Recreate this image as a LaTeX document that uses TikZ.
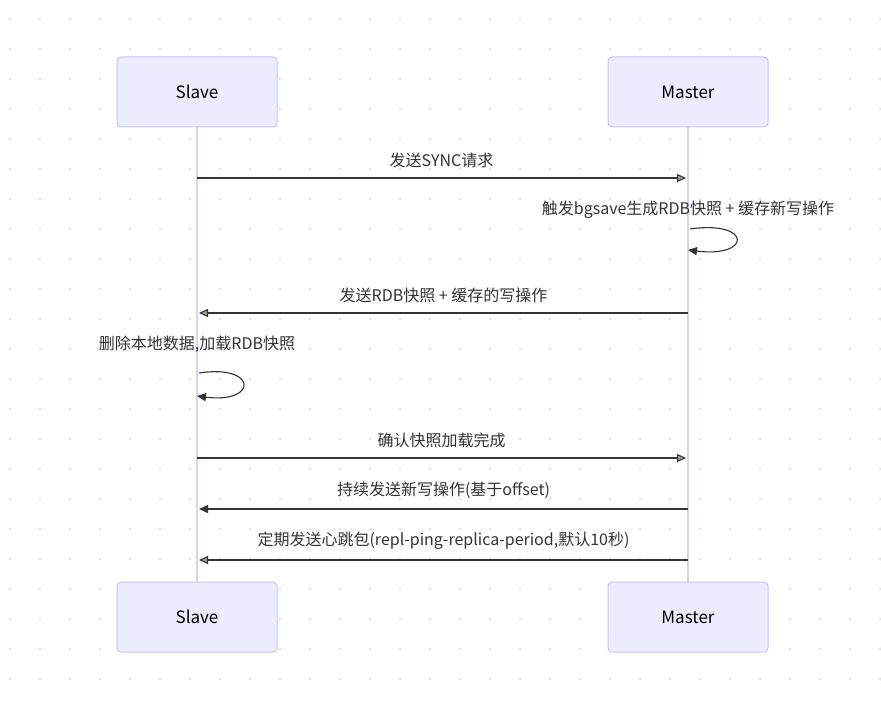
\documentclass[tikz,border=0pt]{standalone}
\usepackage{fontspec}
\setmainfont{Noto Sans CJK SC}
\usetikzlibrary{arrows.meta, positioning, calc}
\definecolor{actorfill}{HTML}{ECECFF}
\definecolor{actorline}{HTML}{CDC3F2}
\definecolor{lifeline}{HTML}{D9D0F5}
\definecolor{ink}{HTML}{333333}
\definecolor{griddot}{HTML}{E2E2E2}
\tikzset{
    % Actor box style
    actor/.style={
        rectangle,
        rounded corners=4pt,
        minimum width=160pt,
        minimum height=70pt,
        align=center,
        font=\fontsize{17}{20}\selectfont,
        draw=actorline,
        fill=actorfill,
        line width=1pt
    },
    % Lifeline style
    life/.style={
        draw=lifeline,
        line width=2.5pt
    },
    % Message styles
    msg/.style={
        -{Triangle[length=9pt, width=8pt, fill=ink!45]},
        line width=1.1pt,
        color=ink
    },
    solidmsg/.style={
        -{Triangle[length=9pt, width=8pt]},
        line width=1.4pt,
        color=ink
    },
    % Label style
    label text/.style={
        font=\fontsize{16}{19}\selectfont,
        text=ink,
        inner sep=1pt
    }
}
\begin{document}
\begin{tikzpicture}[x=1pt, y=-1pt]
        \useasboundingbox (0,0) rectangle (881,703);
        \fill[white] (0,0) rectangle (881,703);

        % Dot grid
        \foreach \gx in {10,40,...,880} {
            \foreach \gy in {19,49,...,700} {
                \fill[griddot] (\gx,\gy) circle (1.5pt);
            }
        }

        % Actors
        \node[actor] (slavetop) at (197, 92) {Slave};
        \node[actor] (mastertop) at (688, 92) {Master};
        \node[actor] (slavebot) at (197, 617) {Slave};
        \node[actor] (masterbot) at (688, 617) {Master};

        % Lifelines
        \draw[life] (slavetop) -- (slavebot);
        \draw[life] (mastertop) -- (masterbot);

        % Message anchors
        \coordinate (s1) at (197, 178);   \coordinate (m1) at (686, 178);
        \coordinate (m2a) at (690, 229);  \coordinate (m2b) at (688, 250);
        \coordinate (m3) at (688, 313);   \coordinate (s3) at (199, 313);
        \coordinate (s4a) at (199, 373); \coordinate (s4b) at (197, 396);
        \coordinate (s5) at (197, 458);   \coordinate (m5) at (686, 458);
        \coordinate (m6) at (688, 509);   \coordinate (s6) at (199, 509);
        \coordinate (m7) at (688, 560);   \coordinate (s7) at (199, 560);

        % Messages
        \draw[msg] (s1) -- node[label text, above=9pt] (l1) {发送SYNC请求} (m1);

        \node[label text] (l2) at (688, 210) {触发bgsave生成RDB快照 + 缓存新写操作};
        \draw[solidmsg, line width=1.1pt] (m2a) .. controls (752,220) and (752,258) .. (m2b);

        \draw[msg] (m3) -- node[label text, above=9pt] (l3) {发送RDB快照 + 缓存的写操作} (s3);

        \node[label text] (l4) at (197, 344) {删除本地数据,加载RDB快照};
        \draw[solidmsg, line width=1.1pt] (s4a) .. controls (258,364) and (258,404) .. (s4b);

        \draw[msg] (s5) -- node[label text, above=9pt] (l5) {确认快照加载完成} (m5);

        \draw[solidmsg] (m6) -- node[label text, above=9pt] (l6) {持续发送新写操作(基于offset)} (s6);

        \draw[msg] (m7) -- node[label text, above=9pt] (l7) {定期发送心跳包(repl-ping-replica-period,默认10秒)} (s7);

    \end{tikzpicture}
\end{document}
